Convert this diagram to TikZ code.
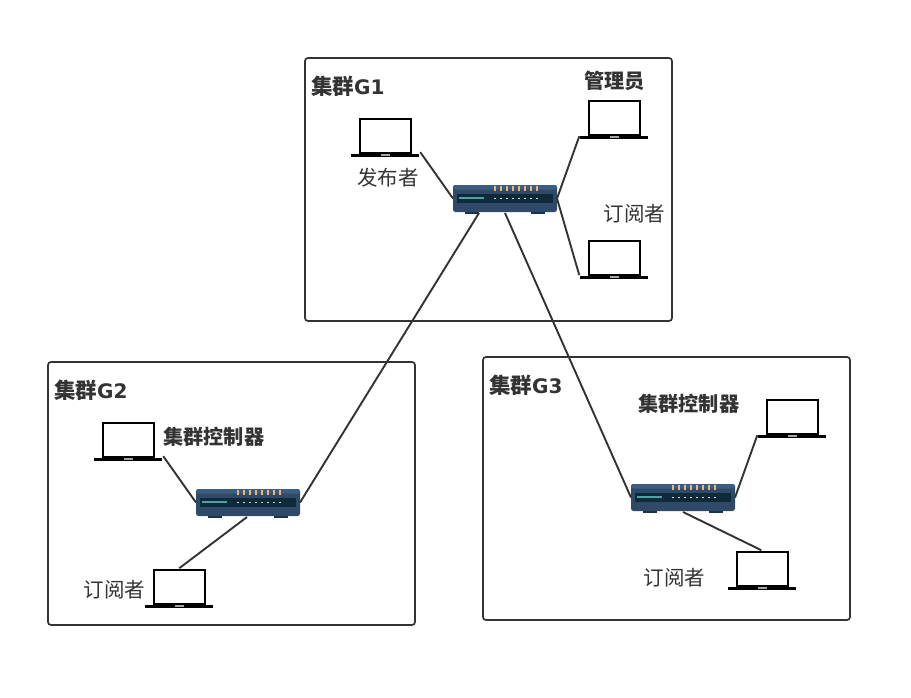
\documentclass[tikz,border=0pt]{standalone}
\usepackage{fontspec}
\setmainfont{Noto Sans CJK SC}
\newfontfamily\latinbold{DejaVu Sans}
\usetikzlibrary{calc}
\definecolor{ink}{HTML}{333333}
\definecolor{rbody}{HTML}{2F4A68}
\definecolor{rtop}{HTML}{3D5D80}
\definecolor{rslot}{HTML}{0F2A3A}
\definecolor{rfoot}{HTML}{16324A}
\definecolor{rbar}{HTML}{4FA3A3}
\definecolor{rled}{HTML}{E8B878}
\tikzset{
  x=1pt,y=-1pt,
  group/.style={draw=ink,line width=1.7pt,rounded corners=3pt,minimum width=367pt,minimum height=263pt,inner sep=0pt,outer sep=0pt},
  title/.style={font=\fontsize{21.5pt}{24pt}\selectfont\bfseries,text=ink,inner sep=0pt,anchor=west},
  boldlabel/.style={font=\fontsize{20.2pt}{24pt}\selectfont\bfseries,text=ink,inner sep=0pt,anchor=west},
  label/.style={font=\fontsize{20.5pt}{24pt}\selectfont,text=ink,inner sep=0pt,anchor=west},
  link/.style={draw=ink,line width=1.9pt},
  laptopbox/.style={minimum width=68pt,minimum height=38pt,inner sep=0pt,outer sep=0pt},
  routerbox/.style={minimum width=104pt,minimum height=27pt,inner sep=0pt,outer sep=0pt},
}
\newcommand{\laptopicon}[2]{%
  \node[laptopbox] (#1) at (#2) {};
  \begin{scope}[shift={(#1.center)}]
    \draw[black,line width=2.2pt,fill=white] (-25.5,-18) rectangle (25.5,16);
    \draw[black,line width=3pt] (-34,18) -- (34,18);
    \fill[gray!70] (-4.5,17) rectangle (4.5,18.6);
  \end{scope}}
\newcommand{\routericon}[2]{%
  \node[routerbox] (#1) at (#2) {};
  \begin{scope}[shift={(#1.center)}]
    \fill[rfoot] (-40,12) rectangle (-26,15);
    \fill[rfoot] (26,12) rectangle (40,15);
    \fill[rbody,rounded corners=2.5pt] (-52,-13.5) rectangle (52,13.5);
    \fill[rtop,rounded corners=2.5pt] (-52,-13.5) rectangle (52,-9);
    \fill[rslot] (-48,-4.5) rectangle (48,4);
    \fill[rbar] (-46,-1.2) rectangle (-21,0.4);
    \foreach \k in {-10,-4,2,8,14,20,26,32}{
      \fill[rled] (\k-1,-12.5) rectangle (\k+1,-7.5);
      \fill[white!85!black] (\k-0.8,-0.9) rectangle (\k+0.8,0.9);
    }
  \end{scope}}
\begin{document}
\begin{tikzpicture}
\useasboundingbox (0,0) rectangle (911,697);
\fill[white] (0,0) rectangle (911,697);
% cluster frames
\node[group] (g1) at (488.5,189.5) {};
\node[group] (g2) at (231.5,493.5) {};
\node[group] (g3) at (666.5,488.5) {};
% titles
\node[title] (t1) at (311,86) {集群{\latinbold\fontsize{20pt}{24pt}\selectfont\bfseries G1}};
\node[title] (t2) at (54,390) {集群{\latinbold\fontsize{20pt}{24pt}\selectfont\bfseries G2}};
\node[title] (t3) at (489,385) {集群{\latinbold\fontsize{20pt}{24pt}\selectfont\bfseries G3}};
% devices
\routericon{r1}{505,198.5}
\routericon{r2}{248,502.5}
\routericon{r3}{683,497.5}
\laptopicon{pub}{385.3,137.2}
\laptopicon{adm}{614.3,119.2}
\laptopicon{sub1}{614.3,259.2}
\laptopicon{ctl2}{128.3,441.2}
\laptopicon{sub2}{179.3,588.2}
\laptopicon{ctl3}{792.3,418.2}
\laptopicon{sub3}{762.3,570.2}
% labels
\node[label] (l1) at (357,178) {发布者};
\node[boldlabel] (l2) at (584,81) {管理员};
\node[label] (l3) at (603.5,214) {订阅者};
\node[boldlabel] (l4) at (163,437) {集群控制器};
\node[label] (l5) at (83.5,590) {订阅者};
\node[boldlabel] (l6) at (638,404) {集群控制器};
\node[label] (l7) at (643.5,578) {订阅者};
% connectors
\draw[link] ($(pub.south east)+(1,-4)$) -- (r1.west);
\draw[link] (r1.east) -- ($(adm.south west)+(-1,-2)$);
\draw[link] (r1.east) -- ($(sub1.south west)+(-1,-3)$);
\draw[link] ($(r1.south)+(-26,1)$) -- (r2.east);
\draw[link] ($(r1.south)+(0,1)$) -- (r3.west);
\draw[link] ($(ctl2.south east)+(1,-4)$) -- (r2.west);
\draw[link] ($(r2.south)+(-1,1)$) -- ($(sub2.north)+(0,-1)$);
\draw[link] (r3.east) -- ($(ctl3.south west)+(-1,-2)$);
\draw[link] ($(r3.south)+(0,1)$) -- ($(sub3.north)+(-1,-1)$);
\end{tikzpicture}
\end{document}
